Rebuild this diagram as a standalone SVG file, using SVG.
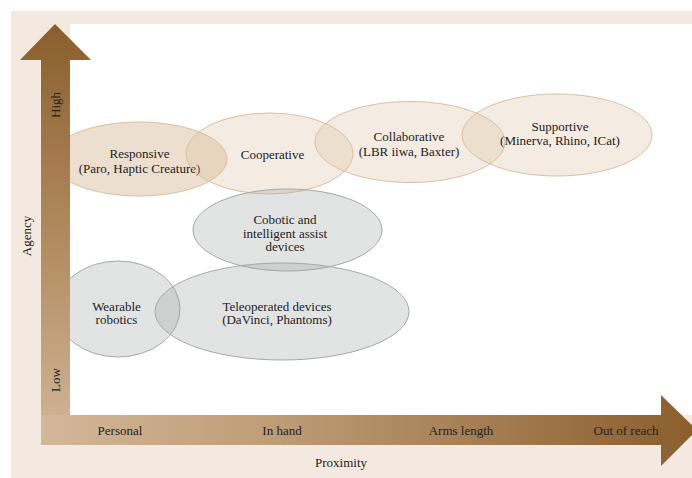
<svg xmlns="http://www.w3.org/2000/svg" width="692" height="478" viewBox="0 0 692 478">
  <defs>
    <linearGradient id="gH" gradientUnits="userSpaceOnUse" x1="41" y1="0" x2="697" y2="0">
      <stop offset="0" stop-color="#D3B799"/>
      <stop offset="0.35" stop-color="#BE9D77"/>
      <stop offset="1" stop-color="#8A5E2C"/>
    </linearGradient>
    <linearGradient id="gV" gradientUnits="userSpaceOnUse" x1="0" y1="445" x2="0" y2="24">
      <stop offset="0" stop-color="#D3B799"/>
      <stop offset="0.5" stop-color="#B08A5E"/>
      <stop offset="1" stop-color="#8A5E2C"/>
    </linearGradient>
    <style>
      text { font-family: 'Liberation Serif', 'DejaVu Serif', serif; font-size: 13px; fill: #222222; text-anchor: middle; }
      .warm { fill: #D9BFA0; fill-opacity: 0.3; stroke: #D9C0A2; stroke-width: 1; }
      .warm2 { fill: #D9BFA0; fill-opacity: 0.5; stroke: #D9C0A2; stroke-width: 1; }
      .cool { fill: #9EA3A3; fill-opacity: 0.3; stroke: #A6A8A8; stroke-width: 1; }
    </style>
  </defs>

  <rect x="11" y="11" width="681" height="467" fill="#F3E9E0"/>
  <rect x="70" y="24" width="622" height="391" fill="#FFFFFF"/>

  <g font-family="Liberation Serif, serif">
  <g id="responsive">
    <ellipse class="warm2" cx="139" cy="159" rx="88" ry="37"/>
    <text x="139.5" y="157.5">Responsive</text>
    <text x="139.5" y="172.5">(Paro, Haptic Creature)</text>
  </g>
  <g id="cooperative">
    <ellipse class="warm" cx="269.5" cy="153.5" rx="83.5" ry="40.5"/>
    <text x="272.5" y="158.5">Cooperative</text>
  </g>
  <g id="collaborative">
    <ellipse class="warm" cx="410" cy="142" rx="95" ry="40.5"/>
    <text x="409" y="141">Collaborative</text>
    <text x="409" y="156">(LBR iiwa, Baxter)</text>
  </g>
  <g id="supportive">
    <ellipse class="warm" cx="557" cy="135" rx="95" ry="41"/>
    <text x="560" y="130.5">Supportive</text>
    <text x="560" y="145">(Minerva, Rhino, ICat)</text>
  </g>
  <g id="cobotic">
    <ellipse class="cool" cx="287.5" cy="230" rx="94.5" ry="41"/>
    <text x="285" y="224">Cobotic and</text>
    <text x="285" y="237.5">intelligent assist</text>
    <text x="285" y="251">devices</text>
  </g>
  <g id="wearable">
    <ellipse class="cool" cx="118" cy="309" rx="62" ry="48"/>
    <text x="116.5" y="310.5">Wearable</text>
    <text x="116.5" y="324">robotics</text>
  </g>
  <g id="teleoperated">
    <ellipse class="cool" cx="282" cy="311.5" rx="127" ry="48.5"/>
    <text x="277" y="310.5">Teleoperated devices</text>
    <text x="277" y="324">(DaVinci, Phantoms)</text>
  </g>

  <g id="connectors">
    <polygon id="agency-axis" points="41,445 41,60 20,60 55,24 91,60 70,60 70,445" fill="url(#gV)"/>
    <polygon id="proximity-axis" points="41,415 661,415 661,395 697,430 661,466 661,445 41,445" fill="url(#gH)"/>
  </g>

  <g id="axis-labels">
    <text transform="translate(59.5,105) rotate(-90)">High</text>
    <text transform="translate(59.5,380) rotate(-90)">Low</text>
    <text transform="translate(30.5,236) rotate(-90)">Agency</text>
    <text x="120" y="435">Personal</text>
    <text x="282" y="435">In hand</text>
    <text x="461" y="435">Arms length</text>
    <text x="626" y="435">Out of reach</text>
    <text x="341" y="467">Proximity</text>
  </g>
  </g>
</svg>
